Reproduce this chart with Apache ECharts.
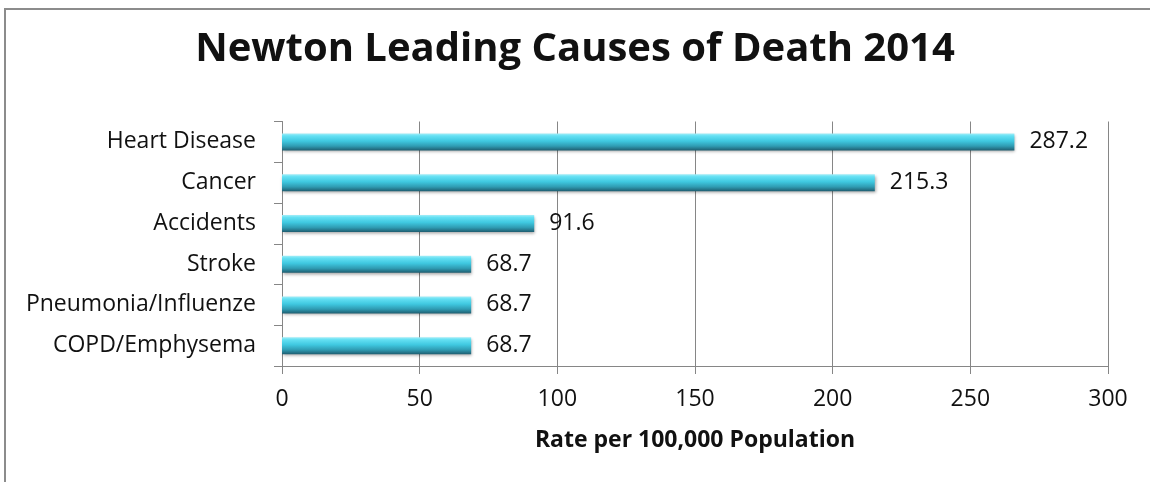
<!DOCTYPE html>
<html>
<head>
<meta charset="utf-8">
<script src="https://cdn.jsdelivr.net/npm/echarts@6/dist/echarts.min.js"></script>
<style>
  html, body { margin: 0; padding: 0; background: #fff; }
  #chart { width: 1150px; height: 482px; }
</style>
</head>
<body>
<div id="chart"></div>
<script>
// categories listed bottom to top, as the y axis draws them
const causes = ['COPD/Emphysema', 'Pneumonia/Influenze', 'Stroke', 'Accidents', 'Cancer', 'Heart Disease']
// bar lengths as drawn in the picture (Heart Disease bar stops short of its label)
const barLengths = [68.7, 68.7, 68.7, 91.6, 215.3, 266]
// rates printed beside each bar
const rateLabels = ['68.7', '68.7', '68.7', '91.6', '215.3', '287.2']
const xTicks = [0, 50, 100, 150, 200, 250, 300]

const font = '"Open Sans", Lato, sans-serif'

const chart = echarts.init(document.getElementById('chart'), null, { renderer: 'canvas' })

chart.setOption({
  animation: false,
  title: {
    text: 'Newton Leading Causes of Death 2014',
    left: 'center',
    top: 25,
    textStyle: { fontFamily: font, fontSize: 40, fontWeight: 'bold', color: '#111' }
  },
  graphic: [{
    type: 'rect',
    shape: { x: 5, y: 9, width: 1200, height: 520 },
    style: { fill: 'none', stroke: '#8c8c8c', lineWidth: 2 },
    silent: true
  }],
  grid: { left: 282, right: 42, top: 121.5, bottom: 116 },
  xAxis: {
    type: 'value',
    min: xTicks[0],
    max: xTicks[xTicks.length - 1],
    interval: 50,
    name: 'Rate per 100,000 Population',
    nameLocation: 'middle',
    nameGap: 63,
    nameTextStyle: { fontFamily: font, fontSize: 23, fontWeight: 'bold', color: '#111' },
    axisLine: { show: true, lineStyle: { color: '#868686' } },
    axisTick: { show: true, length: 8, lineStyle: { color: '#868686' } },
    axisLabel: { fontFamily: font, fontSize: 23, color: '#111', margin: 22 },
    splitLine: { show: true, lineStyle: { color: '#868686' } }
  },
  yAxis: {
    type: 'category',
    data: causes,
    axisLine: { show: true, lineStyle: { color: '#868686' } },
    axisTick: { show: true, length: 8, lineStyle: { color: '#868686' } },
    axisLabel: { fontFamily: font, fontSize: 23, color: '#111', margin: 26 }
  },
  series: [{
    type: 'bar',
    data: barLengths,
    barWidth: 17,
    itemStyle: {
      color: new echarts.graphic.LinearGradient(0, 0, 0, 1, [
        { offset: 0, color: '#a6eef8' },
        { offset: 0.15, color: '#64e0f3' },
        { offset: 0.45, color: '#3fc8e0' },
        { offset: 0.75, color: '#2f9bb2' },
        { offset: 1, color: '#1f5f72' }
      ]),
      shadowColor: 'rgba(0,0,0,0.35)',
      shadowBlur: 3,
      shadowOffsetX: 1,
      shadowOffsetY: 2
    },
    label: {
      show: true,
      position: 'right',
      distance: 15,
      fontFamily: font,
      fontSize: 23,
      color: '#111',
      formatter: p => rateLabels[p.dataIndex]
    }
  }]
})

window.addEventListener('resize', () => chart.resize())
</script>
</body>
</html>
